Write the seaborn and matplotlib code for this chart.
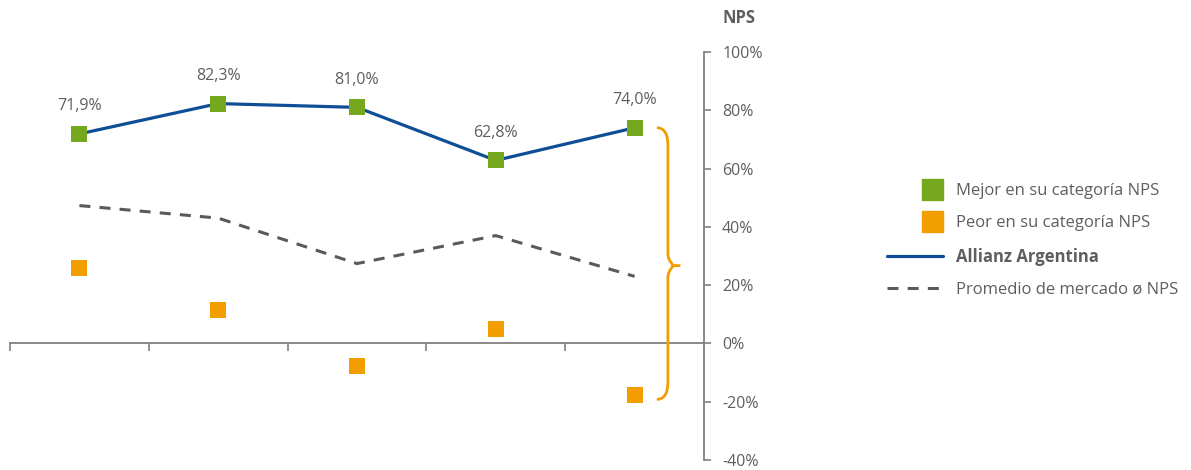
import pandas as pd
import seaborn as sns
import matplotlib.pyplot as plt
from matplotlib.lines import Line2D
from matplotlib.patches import Rectangle, PathPatch
from matplotlib.path import Path
from matplotlib.legend_handler import HandlerPatch
from matplotlib.ticker import FuncFormatter

# data (NPS, %)
periodos = [0, 1, 2, 3, 4]
mejor_nps = [71.9, 82.3, 81.0, 62.8, 74.0]
peor_nps = [26.0, 11.4, -7.8, 5.1, -17.8]
allianz_nps = [71.9, 82.3, 81.0, 62.8, 74.0]
mercado_nps = [47.3, 43.0, 27.4, 37.0, 23.0]
etiquetas = ["71,9%", "82,3%", "81,0%", "62,8%", "74,0%"]

verde = "#76A81F"
naranja = "#F29D00"
azul = "#0D4E97"
gris = "#5A5A5A"
texto = "#5E5E5E"
eje = "#808080"

sns.set_theme(style="white")
plt.rcParams['font.family'] = ['Open Sans', 'DejaVu Sans']

df = pd.DataFrame({"periodo": periodos, "mejor": mejor_nps, "peor": peor_nps,
                   "allianz": allianz_nps, "mercado": mercado_nps})

fig = plt.figure(figsize=(11.91, 4.70), dpi=100)
ax = fig.add_axes([10/1191, 10/470, (704-10)/1191, (460-52)/470])

sns.lineplot(data=df, x="periodo", y="mercado", ax=ax, color=gris, linewidth=2.2,
             zorder=2).lines[-1].set_dashes([3.6, 3])
sns.lineplot(data=df, x="periodo", y="allianz", ax=ax, color=azul, linewidth=2.3, zorder=3)
sns.scatterplot(data=df, x="periodo", y="mejor", ax=ax, marker="s", s=125, color=verde,
                linewidth=0, zorder=4)
sns.scatterplot(data=df, x="periodo", y="peor", ax=ax, marker="s", s=125, color=naranja,
                linewidth=0, zorder=4)

for x, y, t in zip(periodos, mejor_nps, etiquetas):
    ax.annotate(t, (x, y), xytext=(0, 20), textcoords="offset points", ha="center",
                va="center", fontsize=11.5, color=texto)

# curly brace on the right
bx, top, mid, bot = 4.24, 74.0, 26.7, -19.2
verts = [(4.16, top), (bx, top), (bx, top - 6), (bx, top - 12),
         (bx, mid + 10), (bx, mid + 4), (bx, mid + 2), (bx + 0.04, mid), (4.33, mid),
         (bx + 0.04, mid), (bx, mid - 2), (bx, mid - 4),
         (bx, bot + 12), (bx, bot + 6), (bx, bot), (4.16, bot)]
codes = [Path.MOVETO, Path.CURVE3, Path.CURVE3, Path.LINETO,
         Path.LINETO, Path.LINETO, Path.CURVE3, Path.CURVE3, Path.LINETO,
         Path.MOVETO, Path.CURVE3, Path.CURVE3,
         Path.LINETO, Path.LINETO, Path.CURVE3, Path.CURVE3]
ax.add_patch(PathPatch(Path(verts, codes), fill=False, edgecolor=naranja, lw=2,
                       clip_on=False, zorder=5))

ax.set_xlim(-0.5, 4.5)
ax.set_ylim(-40, 100)
ax.set_xticks([-0.5, 0.5, 1.5, 2.5, 3.5])
ax.set_xticklabels([])
ax.set_yticks(range(-40, 101, 20))
ax.yaxis.set_major_formatter(FuncFormatter(lambda v, p: f"{v:.0f}%"))
ax.yaxis.tick_right()
ax.set_xlabel("")
ax.set_ylabel("")
for s in ["left", "top"]:
    ax.spines[s].set_visible(False)
ax.spines["bottom"].set_position(("data", 0))
ax.spines["bottom"].set_color(eje)
ax.spines["right"].set_color(eje)
ax.spines["bottom"].set_linewidth(1.3)
ax.spines["right"].set_linewidth(1.3)
ax.tick_params(axis="x", bottom=True, direction="out", length=6, width=1.2, color=eje)
ax.tick_params(axis="y", right=True, direction="out", length=5, width=1.2, color=eje,
               pad=8, labelsize=11.5, labelcolor=texto)
ax.patch.set_alpha(0)

fig.text(722/1191, 1 - 18/470, "NPS", fontsize=12, fontweight="bold", color=texto,
         va="center", ha="left")


def cuadro_derecha(legend, orig_handle, xdescent, ydescent, width, height, fontsize):
    lado = 15
    return Rectangle((-xdescent + width - lado, -ydescent + (height - lado) / 2), lado, lado)


handles = [Rectangle((0, 0), 1, 1, color=verde), Rectangle((0, 0), 1, 1, color=naranja),
           Line2D([0], [0], color=azul, lw=2.3),
           Line2D([0], [0], color=gris, lw=2.2, dashes=[3.6, 3])]
labels = ["Mejor en su categoría NPS", "Peor en su categoría NPS",
          "Allianz Argentina", "Promedio de mercado ø NPS"]
leg = fig.legend(handles, labels, loc="upper left", bbox_to_anchor=(872/1191, 1 - 168/470),
                 frameon=False, fontsize=12, handlelength=3.35, handletextpad=0.78,
                 labelspacing=0.98, labelcolor=texto,
                 handler_map={Rectangle: HandlerPatch(patch_func=cuadro_derecha)})
leg.get_texts()[2].set_fontweight("bold")

plt.savefig("out.png", dpi=100)
plt.close()
